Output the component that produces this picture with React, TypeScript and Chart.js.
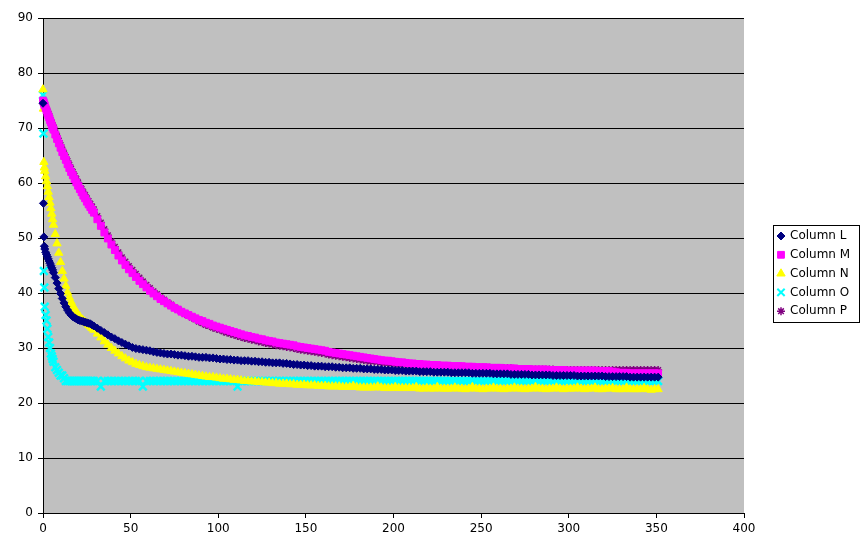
import React, { useEffect, useRef } from "react";
import { Chart, registerables } from "chart.js";
import { drawPoint } from "chart.js/helpers";

Chart.register(...registerables);

const xValues = [
  0, 0.25, 0.5, 0.75, 1, 1.5, 2, 2.5, 3, 3.5, 4, 4.5, 5, 5.5, 6,
  7, 8, 9, 10, 11, 12, 13, 14, 15, 16, 17, 18, 19, 20, 21, 22, 23, 24, 25, 26, 27, 28,
  29, 31, 33, 35, 37, 39, 41, 43, 45, 47,
  49, 51, 53, 55, 57, 59, 61, 63, 65, 67,
  69, 71, 73, 75, 77, 79, 81, 83, 85, 87,
  89, 91, 93, 95, 97, 99, 101, 103, 105, 107,
  109, 111, 113, 115, 117, 119, 121, 123, 125, 127,
  129, 131, 133, 135, 137, 139, 141, 143, 145, 147,
  149, 151, 153, 155, 157, 159, 161, 163, 165, 167,
  169, 171, 173, 175, 177, 179, 181, 183, 185, 187,
  189, 191, 193, 195, 197, 199, 201, 203, 205, 207,
  209, 211, 213, 215, 217, 219, 221, 223, 225, 227,
  229, 231, 233, 235, 237, 239, 241, 243, 245, 247,
  249, 251, 253, 255, 257, 259, 261, 263, 265, 267,
  269, 271, 273, 275, 277, 279, 281, 283, 285, 287,
  289, 291, 293, 295, 297, 299, 301, 303, 305, 307,
  309, 311, 313, 315, 317, 319, 321, 323, 325, 327,
  329, 331, 333, 335, 337, 339, 341, 343, 345, 347,
  349, 351,
];

const columnL = [
  74.5, 56.3, 50.2, 48.5, 48.0, 47.4, 47.0, 46.6, 46.2, 45.8, 45.4, 45.0, 44.6, 44.2, 43.7,
  42.8, 41.8, 40.8, 39.9, 39.0, 38.2, 37.5, 36.9, 36.4, 36.0, 35.7, 35.5, 35.3, 35.1, 35.0, 34.9, 34.8, 34.7, 34.6, 34.5, 34.4, 34.2,
  34.0, 33.6, 33.2, 32.8, 32.4, 32.0, 31.7, 31.3, 31.0, 30.7,
  30.4, 30.1, 29.9, 29.8, 29.7, 29.6, 29.5, 29.3, 29.2, 29.1,
  29.0, 28.9, 28.9, 28.8, 28.7, 28.7, 28.6, 28.5, 28.5, 28.4,
  28.3, 28.3, 28.3, 28.2, 28.2, 28.1, 28.0, 28.0, 27.9, 27.9,
  27.8, 27.8, 27.7, 27.7, 27.7, 27.6, 27.6, 27.5, 27.5, 27.4,
  27.4, 27.3, 27.3, 27.3, 27.2, 27.2, 27.1, 27.0, 27.0, 26.9,
  26.9, 26.8, 26.8, 26.7, 26.7, 26.7, 26.6, 26.6, 26.6, 26.5,
  26.5, 26.4, 26.4, 26.4, 26.3, 26.3, 26.3, 26.2, 26.2, 26.2,
  26.1, 26.1, 26.1, 26.0, 26.0, 26.0, 25.9, 25.9, 25.9, 25.8,
  25.8, 25.8, 25.8, 25.7, 25.7, 25.7, 25.7, 25.6, 25.6, 25.6,
  25.6, 25.6, 25.5, 25.5, 25.5, 25.5, 25.5, 25.5, 25.4, 25.4,
  25.4, 25.4, 25.4, 25.4, 25.3, 25.3, 25.3, 25.3, 25.3, 25.2,
  25.2, 25.2, 25.2, 25.2, 25.2, 25.1, 25.1, 25.1, 25.1, 25.1,
  25.1, 25.0, 25.0, 25.0, 25.0, 25.0, 25.0, 25.0, 24.9, 24.9,
  24.9, 24.9, 24.9, 24.9, 24.9, 24.9, 24.8, 24.8, 24.8, 24.8,
  24.8, 24.8, 24.8, 24.7, 24.7, 24.7, 24.7, 24.7, 24.7, 24.7,
  24.7, 24.7,
];

const columnM = [
  75.0, 74.8, 74.6, 74.3, 74.1, 73.6, 73.2, 72.7, 72.3, 71.9, 71.4, 71.0, 70.5, 70.1, 69.7,
  68.8, 68.0, 67.2, 66.4, 65.6, 64.9, 64.2, 63.4, 62.7, 62.0, 61.4, 60.7, 60.1, 59.5, 58.9, 58.3, 57.7, 57.2, 56.6, 56.1, 55.6, 55.1,
  54.6, 53.4, 52.2, 51.0, 49.9, 48.8, 47.8, 46.8, 45.9, 45.1,
  44.3, 43.6, 42.9, 42.2, 41.6, 41.0, 40.4, 39.9, 39.4, 38.9,
  38.5, 38.1, 37.7, 37.3, 37.0, 36.6, 36.3, 36.0, 35.7, 35.4,
  35.1, 34.9, 34.6, 34.4, 34.1, 33.9, 33.7, 33.5, 33.3, 33.1,
  32.9, 32.7, 32.5, 32.3, 32.2, 32.0, 31.9, 31.7, 31.6, 31.4,
  31.3, 31.2, 31.0, 30.9, 30.8, 30.7, 30.6, 30.5, 30.3, 30.2,
  30.1, 30.0, 29.9, 29.8, 29.7, 29.6, 29.5, 29.3, 29.2, 29.1,
  29.0, 28.9, 28.8, 28.7, 28.6, 28.5, 28.4, 28.3, 28.2, 28.1,
  28.0, 27.9, 27.8, 27.7, 27.7, 27.6, 27.5, 27.4, 27.4, 27.3,
  27.2, 27.2, 27.1, 27.1, 27.0, 27.0, 26.9, 26.9, 26.9, 26.8,
  26.8, 26.8, 26.7, 26.7, 26.7, 26.7, 26.6, 26.6, 26.6, 26.5,
  26.5, 26.5, 26.5, 26.4, 26.4, 26.4, 26.4, 26.3, 26.3, 26.3,
  26.3, 26.2, 26.2, 26.2, 26.2, 26.1, 26.1, 26.1, 26.1, 26.1,
  26.0, 26.0, 26.0, 26.0, 26.0, 25.9, 25.9, 25.9, 25.9, 25.9,
  25.9, 25.9, 25.9, 25.9, 25.8, 25.8, 25.8, 25.8, 25.7, 25.6,
  25.5, 25.5, 25.5, 25.4, 25.4, 25.4, 25.4, 25.4, 25.4, 25.4,
  25.4, 25.4,
];

const columnN = [
  77.0, 73.5, 63.8, 62.8, 62.2, 61.2, 60.3, 59.4, 58.4, 57.4, 56.4, 55.4, 54.4, 53.4, 52.4,
  50.7, 49.0, 47.3, 45.6, 44.0, 42.6, 41.3, 40.1, 39.2, 38.4, 37.7, 37.1, 36.6, 36.1, 35.7, 35.3, 35.0, 34.7, 34.5, 34.2, 33.9, 33.6,
  33.3, 32.6, 31.9, 31.2, 30.6, 30.0, 29.5, 29.0, 28.5, 28.1,
  27.7, 27.4, 27.1, 26.9, 26.7, 26.5, 26.4, 26.3, 26.2, 26.1,
  26.0, 25.9, 25.8, 25.7, 25.6, 25.5, 25.4, 25.3, 25.2, 25.1,
  25.0, 24.9, 24.8, 24.7, 24.7, 24.6, 24.5, 24.4, 24.4, 24.3,
  24.2, 24.2, 24.1, 24.0, 24.0, 23.9, 23.9, 23.8, 23.8, 23.7,
  23.7, 23.6, 23.6, 23.5, 23.5, 23.5, 23.4, 23.4, 23.3, 23.3,
  23.3, 23.2, 23.2, 23.2, 23.1, 23.1, 23.1, 23.0, 23.0, 23.0,
  23.0, 22.9, 22.9, 22.9, 23.1, 22.9, 22.8, 22.8, 22.8, 22.8,
  22.8, 23.0, 22.8, 22.7, 22.7, 22.7, 22.9, 22.7, 22.7, 22.7,
  22.7, 22.7, 22.9, 22.6, 22.6, 22.7, 22.6, 22.6, 22.9, 22.6,
  22.6, 22.6, 22.6, 22.8, 22.6, 22.6, 22.5, 22.6, 22.9, 22.6,
  22.6, 22.5, 22.6, 22.6, 22.8, 22.6, 22.6, 22.5, 22.6, 22.6,
  22.8, 22.6, 22.6, 22.5, 22.6, 22.6, 22.9, 22.6, 22.6, 22.5,
  22.6, 22.6, 22.8, 22.6, 22.5, 22.6, 22.6, 22.6, 22.8, 22.6,
  22.5, 22.6, 22.6, 22.8, 22.5, 22.5, 22.6, 22.6, 22.7, 22.5,
  22.5, 22.5, 22.8, 22.5, 22.5, 22.5, 22.5, 22.7, 22.5, 22.4,
  22.5, 22.5,
];

const columnO = [
  76, 69, 44, 41, 37.5, 36, 35, 33.5, 32, 31, 30, 29, 28.5, 28, 27.5,
  26.5, 26, 25.5, 25, 25, 24.5, 24, 24, 24, 24, 24, 24, 24, 24, 24, 24, 24, 24, 24, 24, 24, 24,
  24, 24, 23, 24, 24, 24, 24, 24, 24, 24,
  24, 24, 24, 24, 23, 24, 24, 24, 24, 24,
  24, 24, 24, 24, 24, 24, 24, 24, 24, 24,
  24, 24, 24, 24, 24, 24, 24, 24, 24, 24,
  24, 23, 24, 24, 24, 24, 24, 24, 24, 24,
  24, 24, 24, 24, 24, 24, 24, 24, 24, 24,
  24, 24, 24, 24, 24, 24, 24, 24, 24, 24,
  24, 24, 24, 24, 24, 24, 24, 24, 24, 24,
  24, 24, 24, 24, 24, 24, 24, 24, 24, 24,
  24, 24, 24, 24, 24, 24, 24, 24, 24, 24,
  24, 24, 24, 24, 24, 24, 24, 24, 24, 24,
  24, 24, 24, 24, 24, 24, 24, 24, 24, 24,
  24, 24, 24, 24, 24, 24, 24, 24, 24, 24,
  24, 24, 24, 24, 24, 24, 24, 24, 24, 24,
  24, 24, 24, 24, 24, 24, 24, 24, 24, 24,
  24, 24, 24, 24, 24, 24, 24, 24, 24, 24,
  24, 24,
];

const columnP = [
  74.5, 74.5, 74.4, 74.2, 74.0, 73.7, 73.4, 73.0, 72.6, 72.2, 71.8, 71.4, 70.9, 70.5, 70.1,
  69.2, 68.5, 67.7, 66.9, 66.1, 65.4, 64.7, 64.0, 63.3, 62.6, 62.0, 61.3, 60.7, 60.1, 59.5, 58.9, 58.3, 57.8, 57.2, 56.7, 56.2, 55.7,
  55.2, 54.0, 52.8, 51.6, 50.5, 49.4, 48.4, 47.4, 46.5, 45.7,
  44.9, 44.2, 43.5, 42.8, 42.1, 41.5, 40.9, 40.3, 39.8, 39.2,
  38.8, 38.3, 37.9, 37.4, 37.0, 36.6, 36.2, 35.9, 35.5, 35.2,
  34.8, 34.5, 34.2, 34.0, 33.7, 33.5, 33.3, 33.0, 32.8, 32.6,
  32.4, 32.2, 32.0, 31.8, 31.7, 31.5, 31.4, 31.2, 31.1, 30.9,
  30.8, 30.7, 30.5, 30.4, 30.3, 30.2, 30.1, 30.0, 29.8, 29.7,
  29.6, 29.5, 29.4, 29.3, 29.2, 29.1, 29.0, 28.8, 28.7, 28.6,
  28.5, 28.4, 28.3, 28.2, 28.1, 28.0, 27.9, 27.8, 27.7, 27.6,
  27.6, 27.5, 27.4, 27.3, 27.3, 27.2, 27.1, 27.1, 27.0, 27.0,
  26.9, 26.9, 26.8, 26.8, 26.8, 26.7, 26.7, 26.7, 26.7, 26.6,
  26.6, 26.6, 26.6, 26.5, 26.5, 26.5, 26.5, 26.5, 26.4, 26.4,
  26.4, 26.4, 26.4, 26.4, 26.3, 26.3, 26.3, 26.3, 26.3, 26.3,
  26.2, 26.2, 26.2, 26.2, 26.2, 26.1, 26.1, 26.1, 26.1, 26.1,
  26.1, 26.1, 26.0, 26.0, 26.0, 26.0, 26.0, 26.0, 26.0, 26.0,
  26.0, 26.0, 26.0, 26.0, 26.0, 26.0, 26.0, 26.0, 26.0, 26.0,
  26.0, 26.0, 26.0, 26.0, 26.0, 26.0, 26.0, 26.0, 26.0, 26.0,
  26.0, 26.0,
];

const seriesNames = ["Column L", "Column M", "Column N", "Column O", "Column P"];
const seriesValues = [columnL, columnM, columnN, columnO, columnP];
const seriesColors = ["#000080", "#ff00ff", "#ffff00", "#00ffff", "#800080"];
const seriesStyles = ["rectRot", "rect", "triangle", "crossRot", "star"];
const seriesRadius = [4, 4.8, 4.8, 5.4, 4];
const seriesBorder = [1, 1, 1, 2.5, 1.5];

const xTickMax = 400;
const xTickStep = 50;
const yTickMax = 90;
const yTickStep = 10;

const FONT = "DejaVu Sans";

const plotBackground = {
  id: "plotBackground",
  beforeDraw(chart: any) {
    const { ctx, chartArea } = chart;
    ctx.save();
    ctx.fillStyle = "#c0c0c0";
    ctx.fillRect(chartArea.left, chartArea.top, chartArea.right - chartArea.left, chartArea.bottom - chartArea.top);
    ctx.restore();
  },
};

const boxLegend = {
  id: "boxLegend",
  afterDraw(chart: any) {
    const { ctx } = chart;
    const left = 773.5;
    const top = 225.5;
    const w = 86;
    const h = 97;
    ctx.save();
    ctx.fillStyle = "#ffffff";
    ctx.fillRect(left, top, w, h);
    ctx.strokeStyle = "#000000";
    ctx.lineWidth = 1;
    ctx.strokeRect(left, top, w, h);
    const rowH = 18.8;
    const firstY = 236;
    seriesNames.forEach((name, i) => {
      const cy = firstY + i * rowH;
      ctx.fillStyle = seriesColors[i];
      ctx.strokeStyle = seriesColors[i];
      ctx.lineWidth = Math.min(seriesBorder[i], 2);
      drawPoint(ctx, { pointStyle: seriesStyles[i], radius: Math.min(seriesRadius[i], 5.2), rotation: 0, borderWidth: Math.min(seriesBorder[i], 2) } as any, 781, cy);
      ctx.fillStyle = "#000000";
      ctx.font = `12px "${FONT}"`;
      ctx.textBaseline = "middle";
      ctx.textAlign = "left";
      ctx.fillText(name, 790, cy);
    });
    ctx.restore();
  },
};

export default function App() {
  const canvasRef = useRef<HTMLCanvasElement | null>(null);

  useEffect(() => {
    if (!canvasRef.current) return;
    const datasets = seriesNames.map((name, i) => ({
      label: name,
      data: xValues.map((x, j) => ({ x, y: seriesValues[i][j] })),
      showLine: false,
      pointStyle: seriesStyles[i] as any,
      pointRadius: seriesRadius[i],
      pointHoverRadius: seriesRadius[i],
      pointBorderWidth: seriesBorder[i],
      backgroundColor: seriesColors[i],
      borderColor: seriesColors[i],
      clip: false as any,
    }));

    const chart = new Chart(canvasRef.current, {
      type: "scatter",
      data: { datasets },
      plugins: [plotBackground, boxLegend],
      options: {
        animation: false,
        responsive: false,
        devicePixelRatio: 1,
        layout: { padding: { top: 18, right: 123, left: 0, bottom: 0 } },
        plugins: {
          legend: { display: false },
          tooltip: { enabled: false },
        },
        scales: {
          x: {
            type: "linear",
            min: 0,
            max: xTickMax,
            ticks: {
              stepSize: xTickStep,
              color: "#000",
              font: { family: FONT, size: 12 },
              padding: 4,
              maxRotation: 0,
            },
            grid: {
              display: true,
              drawOnChartArea: false,
              drawTicks: true,
              tickLength: 5,
              color: "#000",
            },
            border: { display: true, color: "#000", width: 1 },
            afterFit: (s: any) => {
              s.height = 35;
            },
          },
          y: {
            type: "linear",
            min: 0,
            max: yTickMax,
            ticks: {
              stepSize: yTickStep,
              color: "#000",
              font: { family: FONT, size: 12 },
              padding: 5,
            },
            grid: {
              display: true,
              drawTicks: true,
              tickLength: 5,
              color: "#000",
            },
            border: { display: true, color: "#000", width: 1 },
            afterFit: (s: any) => {
              s.width = 43;
            },
          },
        },
      },
    });
    return () => chart.destroy();
  }, []);

  return (
    <div style={{ position: "fixed", left: 0, top: 0, width: 867, height: 548, background: "#fff" }}>
      <canvas ref={canvasRef} width={867} height={548} style={{ display: "block" }} />
    </div>
  );
}
